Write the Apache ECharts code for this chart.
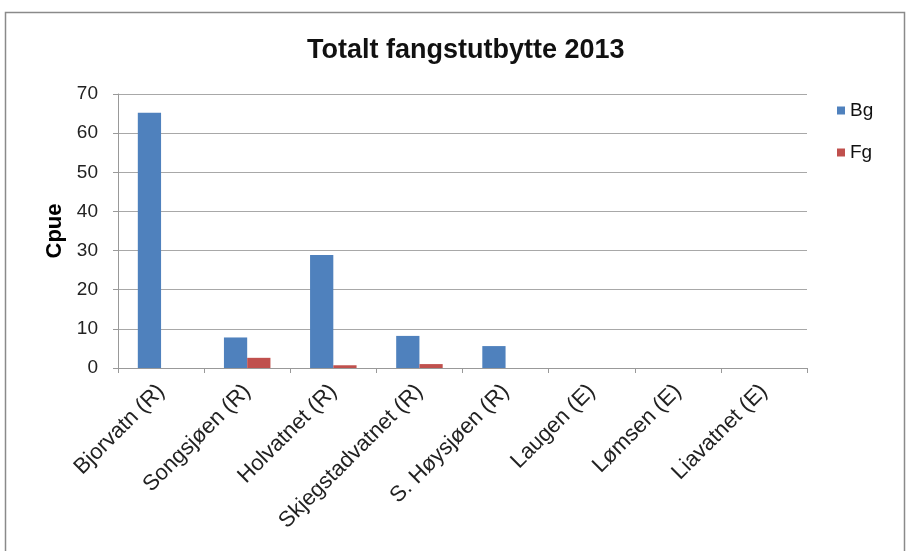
<!DOCTYPE html>
<html><head><meta charset="utf-8">
<script src="https://cdn.jsdelivr.net/npm/echarts@6/dist/echarts.min.js"></script>
<style>html,body{margin:0;padding:0;background:#fff}#c{width:906px;height:551px}</style>
</head><body><div id="c"></div>
<script>
var categories = ["Bjorvatn (R)", "Songsjøen (R)", "Holvatnet (R)", "Skjegstadvatnet (R)", "S. Høysjøen (R)", "Laugen (E)", "Lømsen (E)", "Liavatnet (E)"];
var bgValues = [65.2, 7.8, 28.9, 8.2, 5.6, 0, 0, 0];
var fgValues = [0, 2.6, 0.7, 1.0, 0, 0, 0, 0];
var yTicks = [0, 10, 20, 30, 40, 50, 60, 70];

var chart = echarts.init(document.getElementById('c'));
var font = '"Liberation Sans", Arial, sans-serif';
chart.setOption({
  animation: false,
  textStyle: {fontFamily: font},
  graphic: [{type: 'rect', shape: {x: 5.5, y: 12.5, width: 899, height: 545}, style: {fill: 'none', stroke: '#8a8a8a', lineWidth: 1.5}, z: -1}],
  title: {text: 'Totalt fangstutbytte 2013', left: 302, top: 32,
    textStyle: {fontFamily: font, fontSize: 27, fontWeight: 'bold', color: '#111'}},
  legend: {orient: 'vertical', left: 832, top: 96, itemWidth: 8, itemHeight: 8, itemGap: 23,
    icon: 'rect', textStyle: {fontFamily: font, fontSize: 19, color: '#111'},
    data: ['Bg', 'Fg']},
  grid: {left: 118, right: 99, top: 94, bottom: 183},
  xAxis: {type: 'category', data: categories,
    axisLine: {lineStyle: {color: '#999'}},
    axisTick: {show: true, length: 5, lineStyle: {color: '#999'}},
    axisLabel: {rotate: 45, fontSize: 22, color: '#222', fontFamily: font, margin: 20, interval: 0}},
  yAxis: {type: 'value', min: yTicks[0], max: yTicks[yTicks.length - 1], interval: 10,
    name: 'Cpue', nameLocation: 'middle', nameGap: 47, nameRotate: 90,
    nameTextStyle: {fontFamily: font, fontSize: 22, fontWeight: 'bold', color: '#000'},
    axisLine: {show: true, lineStyle: {color: '#999'}},
    axisTick: {show: true, length: 5, lineStyle: {color: '#999'}},
    splitLine: {lineStyle: {color: '#a8a8a8', width: 1.2}},
    axisLabel: {fontSize: 19, color: '#222', fontFamily: font, margin: 20}},
  series: [
    {name: 'Bg', type: 'bar', data: bgValues, barGap: '0%', barCategoryGap: '46%', itemStyle: {color: '#4F81BD'}},
    {name: 'Fg', type: 'bar', data: fgValues, barGap: '0%', barCategoryGap: '46%', itemStyle: {color: '#C0504D'}}
  ]
});
</script></body></html>
